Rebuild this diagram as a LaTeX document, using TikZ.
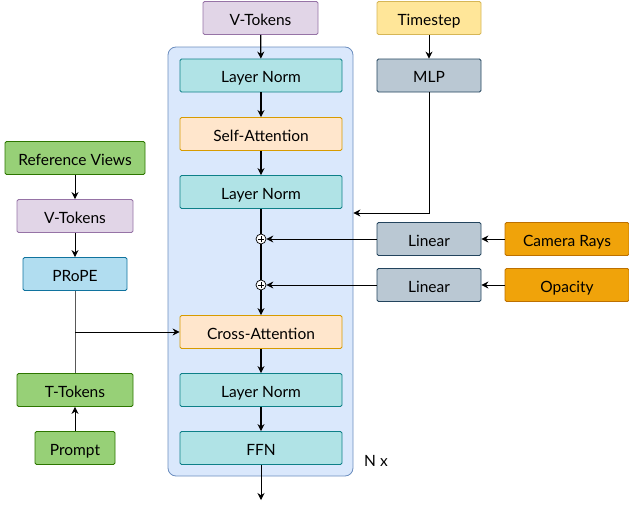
\documentclass[tikz,border=0pt]{standalone}
\usepackage{fontspec}
\setmainfont{Lato}
\usetikzlibrary{arrows.meta}
\definecolor{vtfill}{HTML}{E1D5E7}\definecolor{vtdraw}{HTML}{9673A6}
\definecolor{tsfill}{HTML}{FFE699}\definecolor{tsdraw}{HTML}{D6B656}
\definecolor{blkfill}{HTML}{DAE8FC}\definecolor{blkdraw}{HTML}{6C8EBF}
\definecolor{lnfill}{HTML}{B0E3E6}\definecolor{lndraw}{HTML}{0E8088}
\definecolor{safill}{HTML}{FFE6CC}\definecolor{sadraw}{HTML}{D79B00}
\definecolor{grfill}{HTML}{BAC8D3}\definecolor{grdraw}{HTML}{23445D}
\definecolor{orfill}{HTML}{F0A30A}\definecolor{ordraw}{HTML}{BD7000}
\definecolor{gnfill}{HTML}{97D077}\definecolor{gndraw}{HTML}{2D7600}
\definecolor{pfill}{HTML}{B1DDF0}\definecolor{pdraw}{HTML}{10739E}
\begin{document}
\begin{tikzpicture}[x=1pt,y=-1pt,
  box/.style={draw, rounded corners=1.5pt, minimum height=33pt, line width=0.8pt, inner sep=0pt, text height=14.5pt, text depth=0pt, font=\fontsize{15.5}{17}\selectfont},
  arr/.style={-{Stealth[length=7pt,width=7pt]}, line width=1.3pt},
  sarr/.style={-{Stealth[length=7pt,width=7pt]}, line width=0.9pt},
  oplus/.style={draw, circle, fill=white, minimum size=10pt, inner sep=0pt, line width=0.7pt,
    path picture={\draw[line width=0.6pt] ([xshift=-3pt]path picture bounding box.center) -- ([xshift=3pt]path picture bounding box.center)
      ([yshift=-3pt]path picture bounding box.center) -- ([yshift=3pt]path picture bounding box.center);}}]
\useasboundingbox (0,0) rectangle (629,506);
\node[draw=blkdraw, fill=blkfill, rounded corners=8pt, line width=0.8pt, minimum width=185pt, minimum height=429pt] (blk) at (260.5,261.5) {};
\node[box, draw=vtdraw, fill=vtfill, minimum width=115pt] (vt) at (260.5,18) {V-Tokens};
\node[box, draw=tsdraw, fill=tsfill, minimum width=104pt] (ts) at (429,18) {Timestep};
\node[box, draw=lndraw, fill=lnfill, minimum width=162pt] (ln1) at (261,75.5) {Layer Norm};
\node[box, draw=grdraw, fill=grfill, minimum width=104pt] (mlp) at (429,75.5) {MLP};
\node[box, draw=sadraw, fill=safill, minimum width=162pt] (sa) at (261,134) {Self-Attention};
\node[box, draw=lndraw, fill=lnfill, minimum width=162pt] (ln2) at (261,192) {Layer Norm};
\node[oplus] (o1) at (261,239) {};
\node[oplus] (o2) at (261,285) {};
\node[box, draw=grdraw, fill=grfill, minimum width=104pt] (lin1) at (429,239) {Linear};
\node[box, draw=grdraw, fill=grfill, minimum width=104pt] (lin2) at (429,285) {Linear};
\node[box, draw=ordraw, fill=orfill, minimum width=124pt] (cam) at (567,239) {Camera Rays};
\node[box, draw=ordraw, fill=orfill, minimum width=124pt] (op) at (567,285) {Opacity};
\node[box, draw=sadraw, fill=safill, minimum width=162pt] (ca) at (261,332) {Cross-Attention};
\node[box, draw=lndraw, fill=lnfill, minimum width=162pt] (ln3) at (261,390) {Layer Norm};
\node[box, draw=lndraw, fill=lnfill, minimum width=162pt] (ffn) at (261,448) {FFN};
\node[font=\fontsize{15.5}{17}\selectfont, inner sep=0pt] (nx) at (376,461) {N x};
\node[box, draw=gndraw, fill=gnfill, minimum width=140pt] (ref) at (75,158) {Reference Views};
\node[box, draw=vtdraw, fill=vtfill, minimum width=116pt] (vt2) at (75,216) {V-Tokens};
\node[box, draw=pdraw, fill=pfill, minimum width=104pt] (pr) at (75,274) {PRoPE};
\node[box, draw=gndraw, fill=gnfill, minimum width=116pt] (tt) at (75,390) {T-Tokens};
\node[box, draw=gndraw, fill=gnfill, minimum width=80pt] (pm) at (75,448) {Prompt};
\coordinate (mj) at (429,213);
\coordinate (jn) at (75,332);
\coordinate (out) at (261,500);
\draw[arr] (vt) -- (ln1);
\draw[sarr] (ts) -- (mlp);
\draw[arr] (ln1) -- (sa);
\draw[arr] (sa) -- (ln2);
\draw[line width=1.3pt] (ln2) -- (o1);
\draw[line width=1.3pt] (o1) -- (o2);
\draw[arr] (o2) -- (ca);
\draw[sarr] (mlp) -- (mj) -- (blk.east |- mj);
\draw[sarr] (lin1) -- (o1);
\draw[sarr] (lin2) -- (o2);
\draw[sarr] (cam) -- (lin1);
\draw[sarr] (op) -- (lin2);
\draw[arr] (ca) -- (ln3);
\draw[arr] (ln3) -- (ffn);
\draw[sarr] (ffn) -- (out);
\draw[sarr] (ref) -- (vt2);
\draw[sarr] (vt2) -- (pr);
\draw[line width=0.9pt, black!65] (pr) -- (tt);
\draw[sarr] (jn) -- (ca);
\draw[sarr] (pm) -- (tt);
\end{tikzpicture}
\end{document}
